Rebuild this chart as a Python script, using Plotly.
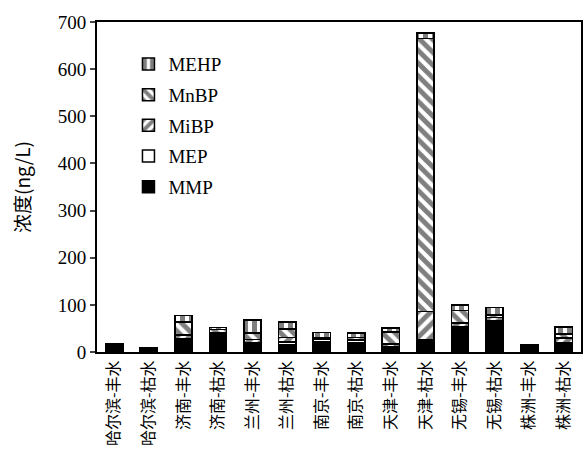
import plotly.graph_objects as go

categories = ["哈尔滨-丰水", "哈尔滨-枯水", "济南-丰水", "济南-枯水", "兰州-丰水", "兰州-枯水",
              "南京-丰水", "南京-枯水", "天津-丰水", "天津-枯水", "无锡-丰水", "无锡-枯水",
              "株洲-丰水", "株洲-枯水"]
MMP = [12, 9, 25, 35, 17, 16, 22, 20, 10, 27, 50, 65, 14, 17]
MEP = [1, 0, 3, 2, 3, 5, 4, 4, 2, 0, 3, 2, 0, 3]
MiBP = [1, 0, 8, 3, 6, 10, 2, 3, 5, 59, 8, 6, 0, 10]
MnBP = [1, 0, 28, 8, 14, 18, 3, 4, 25, 579, 27, 6, 0, 8]
MEHP = [3, 1, 13, 4, 28, 15, 10, 9, 9, 12, 12, 15, 1, 15]
y_ticks = [0, 100, 200, 300, 400, 500, 600, 700]

series = [
    ("MMP", MMP, None),
    ("MEP", MEP, ""),
    ("MiBP", MiBP, "/"),
    ("MnBP", MnBP, "\\"),
    ("MEHP", MEHP, "|"),
]

fig = go.Figure()
for i, (name, vals, shape) in enumerate(series):
    if shape is None:
        marker = dict(color="black", line=dict(color="black", width=1.5))
    else:
        marker = dict(color="white", line=dict(color="black", width=1.5),
                      pattern=dict(shape=shape, fgcolor="black", bgcolor="white",
                                   size=9, solidity=0.55, fillmode="overlay"))
    fig.add_trace(go.Bar(x=categories, y=vals, name=name, marker=marker,
                         legendgroup=name, legendrank=1000 - i))

serif = "Liberation Serif"
cjk = "Noto Sans CJK SC"
fig.update_layout(
    barmode="stack",
    bargap=0.5,
    width=586, height=474,
    margin=dict(l=97, r=3, t=22, b=122),
    plot_bgcolor="white", paper_bgcolor="white",
    font=dict(family=serif, size=19, color="black"),
    legend=dict(x=0.065, y=0.93, xanchor="left", yanchor="top",
                traceorder="grouped", tracegroupgap=3,
                font=dict(family=serif, size=19, color="black"),
                bgcolor="rgba(0,0,0,0)", itemwidth=30),
    showlegend=True,
)
fig.update_yaxes(range=[0, 700], tickvals=y_ticks, ticks="outside", ticklen=5,
                 tickwidth=1.5, showline=True, linecolor="black", linewidth=2,
                 mirror=True, showgrid=False, zeroline=False,
                 tickfont=dict(family=serif, size=19),
                 title=dict(text="浓度(ng/L)", font=dict(family=cjk, size=19), standoff=22))
fig.update_xaxes(tickangle=-90, showline=True, linecolor="black", linewidth=2,
                 mirror=True, showgrid=False, ticks="",
                 tickfont=dict(family=cjk, size=16))

fig.write_html("out.html", config={"displayModeBar": False},
               post_script="document.body.style.margin='0';")
